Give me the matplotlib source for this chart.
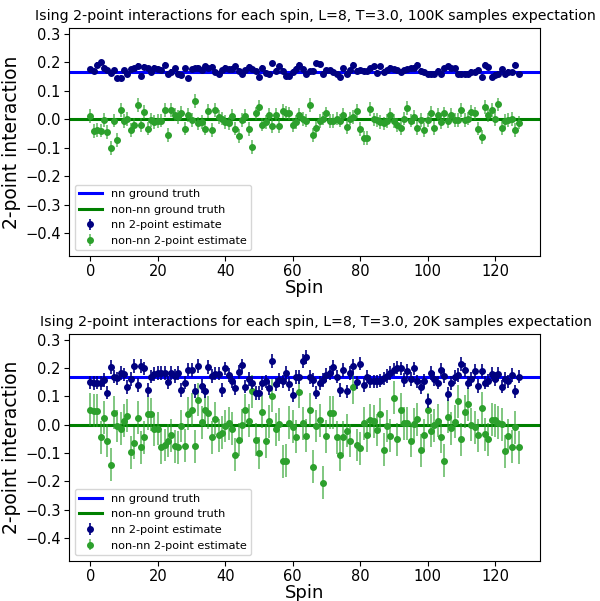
import numpy as np
import matplotlib
matplotlib.use("Agg")
import matplotlib.pyplot as plt

spins = list(range(128))
nn_truth = 0.1667
nonnn_truth = 0.0

top_nn = [0.175, 0.168, 0.19, 0.2, 0.18, 0.172, 0.163, 0.172, 0.143, 0.145,
          0.172, 0.16, 0.175, 0.178, 0.188, 0.15, 0.183, 0.178, 0.167, 0.18,
          0.176, 0.172, 0.19, 0.16, 0.167, 0.178, 0.16, 0.155, 0.178, 0.143,
          0.175, 0.178, 0.18, 0.172, 0.185, 0.178, 0.183, 0.165, 0.16, 0.172,
          0.18, 0.175, 0.177, 0.185, 0.17, 0.16, 0.172, 0.183, 0.177, 0.168,
          0.149, 0.18, 0.163, 0.16, 0.196, 0.17, 0.185, 0.17, 0.152, 0.15,
          0.167, 0.177, 0.19, 0.175, 0.16, 0.168, 0.17, 0.196, 0.195, 0.16,
          0.172, 0.172, 0.167, 0.16, 0.149, 0.178, 0.16, 0.172, 0.19, 0.17,
          0.172, 0.17, 0.168, 0.178, 0.185, 0.163, 0.185, 0.167, 0.172, 0.18,
          0.175, 0.172, 0.165, 0.172, 0.175, 0.178, 0.18, 0.19, 0.17, 0.167,
          0.16, 0.16, 0.158, 0.17, 0.16, 0.178, 0.185, 0.178, 0.178, 0.16,
          0.16, 0.16, 0.16, 0.167, 0.167, 0.172, 0.149, 0.19, 0.183, 0.149,
          0.155, 0.16, 0.175, 0.16, 0.167, 0.165, 0.19, 0.158]

top_nonnn = [0.012, -0.042, -0.039, -0.04, -0.004, -0.045, -0.1, -0.005, -0.074, 0.033,
             -0.006, 0.0, -0.039, -0.019, 0.049, -0.021, 0.026, -0.033, -0.003, -0.009,
             -0.007, -0.005, 0.032, -0.056, 0.032, 0.016, 0.008, 0.023, -0.033, 0.014,
             -0.004, 0.063, -0.015, -0.009, -0.033, 0.028, -0.039, 0.032, 0.008, 0.002,
             -0.009, -0.015, 0.012, -0.033, -0.059, -0.004, 0.012, -0.035, -0.097, 0.02,
             0.043, -0.019, -0.009, 0.014, -0.023, 0.016, -0.023, 0.028, 0.023, 0.02,
             -0.021, -0.009, 0.016, 0.0, -0.005, 0.049, -0.056, -0.03, -0.007, 0.002,
             0.02, -0.007, -0.007, 0.002, -0.005, 0.014, -0.027, 0.002, 0.008, 0.028,
             -0.035, -0.066, -0.066, 0.035, -0.001, -0.004, -0.009, -0.015, -0.007, 0.014,
             -0.007, -0.021, -0.03, 0.002, 0.04, -0.005, 0.008, -0.03, -0.004, -0.039,
             -0.004, 0.023, -0.03, 0.016, -0.009, 0.02, -0.007, 0.014, -0.004, -0.004,
             0.032, -0.004, 0.002, 0.026, 0.02, -0.033, -0.062, 0.043, 0.014, 0.032,
             0.0, 0.052, -0.03, -0.007, -0.004, 0.0, -0.039, -0.012]

bot_nn = [0.149, 0.146, 0.148, 0.146, 0.157, 0.113, 0.204, 0.169, 0.163, 0.181,
          0.177, 0.132, 0.16, 0.206, 0.14, 0.206, 0.198, 0.123, 0.169, 0.178,
          0.183, 0.183, 0.183, 0.149, 0.183, 0.171, 0.183, 0.123, 0.148, 0.194,
          0.192, 0.119, 0.206, 0.137, 0.117, 0.204, 0.171, 0.18, 0.18, 0.123,
          0.198, 0.175, 0.152, 0.129, 0.186, 0.209, 0.134, 0.16, 0.148, 0.111,
          0.111, 0.146, 0.152, 0.129, 0.225, 0.142, 0.157, 0.152, 0.181, 0.144,
          0.105, 0.168, 0.168, 0.225, 0.238, 0.168, 0.157, 0.113, 0.146, 0.157,
          0.175, 0.183, 0.204, 0.169, 0.123, 0.192, 0.117, 0.181, 0.206, 0.149,
          0.215, 0.14, 0.169, 0.152, 0.152, 0.152, 0.155, 0.163, 0.171, 0.181,
          0.194, 0.201, 0.198, 0.157, 0.19, 0.16, 0.198, 0.152, 0.132, 0.155,
          0.083, 0.183, 0.16, 0.148, 0.194, 0.171, 0.108, 0.146, 0.167, 0.175,
          0.213, 0.192, 0.148, 0.16, 0.19, 0.137, 0.19, 0.148, 0.155, 0.178,
          0.16, 0.178, 0.134, 0.16, 0.152, 0.175, 0.117, 0.169]

bot_nonnn = [0.053, 0.049, 0.049, -0.045, 0.024, -0.057, -0.141, 0.042, -0.005, -0.014,
             0.013, 0.032, -0.097, -0.065, 0.024, -0.08, -0.045, 0.039, 0.036, -0.016,
             -0.014, -0.08, -0.072, -0.057, -0.037, -0.076, -0.08, -0.005, -0.074, 0.039,
             0.053, -0.076, 0.088, 0.009, 0.051, 0.042, -0.045, 0.021, -0.037, -0.028,
             -0.005, 0.005, -0.014, -0.106, -0.054, -0.002, 0.051, 0.013, 0.117, -0.054,
             -0.1, 0.046, -0.059, 0.012, 0.102, -0.016, 0.001, -0.13, -0.127, 0.007,
             -0.007, -0.043, 0.115, 0.005, -0.039, 0.053, -0.148, -0.005, 0.016, -0.205,
             -0.041, 0.042, 0.042, -0.045, -0.106, -0.045, -0.022, -0.057, 0.132, -0.072,
             -0.083, 0.005, -0.037, 0.016, 0.012, -0.019, 0.036, -0.088, -0.005, -0.039,
             0.094, -0.051, 0.053, 0.005, 0.005, -0.057, 0.001, 0.019, -0.091, -0.037,
             0.053, -0.022, -0.002, 0.013, -0.042, -0.127, 0.028, -0.013, 0.01, 0.082,
             -0.051, 0.046, 0.072, 0.0, -0.01, -0.037, 0.058, -0.034, -0.051, 0.017,
             0.016, 0.007, 0.001, -0.094, -0.039, -0.078, -0.01, -0.08]

top_err = [0.009, 0.024]
bot_err = [0.024, 0.058]

titles = ["Ising 2-point interactions for each spin, L=8, T=3.0, 100K samples expectation",
          "Ising 2-point interactions for each spin, L=8, T=3.0, 20K samples expectation"]

fig = plt.figure(figsize=(6, 6.01), dpi=100)
ax1 = fig.add_axes([0.115, 0.574, 0.785, 0.3795])
ax2 = fig.add_axes([0.115, 0.067, 0.785, 0.3775])

panels = [(ax1, top_nn, top_nonnn, top_err, titles[0]),
          (ax2, bot_nn, bot_nonnn, bot_err, titles[1])]

for ax, nn, nonnn, err, title in panels:
    ax.axhline(nn_truth, color='blue', lw=2.2, label='nn ground truth', zorder=1)
    ax.axhline(nonnn_truth, color='green', lw=2.2, label='non-nn ground truth', zorder=1)
    ax.errorbar(spins, nn, yerr=err[0], fmt='o', color='navy', ms=4,
                elinewidth=1.2, label='nn 2-point estimate', zorder=3)
    ax.errorbar(spins, nonnn, yerr=err[1], fmt='o', color='#2ca02c', ms=4,
                ecolor=(0.17, 0.63, 0.17, 0.6), elinewidth=1.4,
                label='non-nn 2-point estimate', zorder=2)
    ax.set_ylim(-0.48, 0.32)
    ax.set_yticks([0.3, 0.2, 0.1, 0.0, -0.1, -0.2, -0.3, -0.4])
    ax.set_xticks([0, 20, 40, 60, 80, 100, 120])
    ax.tick_params(labelsize=10.5, pad=2.5)
    ax.set_xlabel('Spin', fontsize=13, labelpad=0)
    ax.set_ylabel('2-point interaction', fontsize=13.5, labelpad=3)
    ax.set_title(title, fontsize=10.2, x=0.524)
    ax.legend(loc='lower left', fontsize=8.1)

fig.savefig('out.png', dpi=100)
